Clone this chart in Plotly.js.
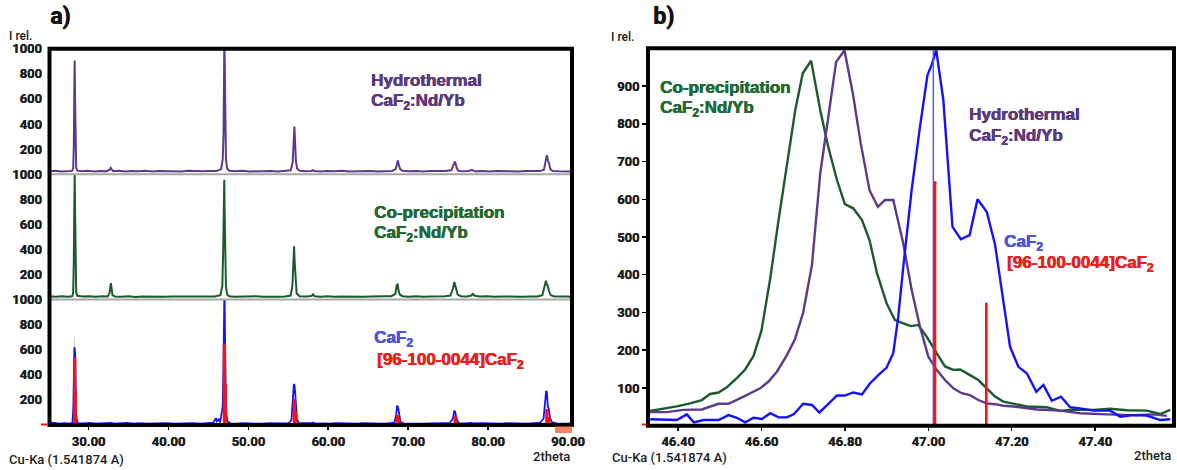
<!DOCTYPE html>
<html>
<head>
<meta charset="utf-8">
<script src="https://cdn.plot.ly/plotly-3.0.1.min.js"></script>
<style>
  html, body { margin: 0; padding: 0; background: #fff; }
  #chart { width: 1177px; height: 470px; }
</style>
</head>
<body>
<div id="chart"></div>
<script>
// ---------- Full patterns (2theta, I rel.) ----------
const hydroPts = [
  [25.12,22],[25.9,27],[26.6,21],[27.3,25],[27.9,24],[28.08,45],[28.16,210],[28.22,620],[28.27,905],[28.32,610],
  [28.38,180],[28.46,50],[28.6,28],[29.2,23],[29.9,26],[30.7,21],[31.5,25],[32.2,22],[32.65,35],[32.78,50],
  [32.9,38],[33.1,24],[33.8,26],[34.6,21],[35.4,25],[36.3,22],[37.1,26],[38.0,21],[38.9,24],[39.8,22],
  [40.7,25],[41.6,21],[42.5,26],[43.4,23],[44.3,22],[45.2,25],[46.0,24],[46.6,40],[46.8,120],[46.9,320],
  [46.96,1020],[47.0,1040],[47.05,900],[47.1,420],[47.2,120],[47.35,45],[47.6,27],[48.3,23],[49.2,26],[50.1,21],
  [51.0,24],[51.9,22],[52.8,25],[53.7,21],[54.6,24],[55.3,30],[55.55,90],[55.68,240],[55.77,380],[55.85,260],
  [55.95,110],[56.1,45],[56.4,27],[57.2,23],[57.9,25],[58.1,32],[58.3,24],[59.0,21],[59.9,25],[60.8,22],
  [61.7,26],[62.6,21],[63.5,24],[64.4,22],[65.3,25],[66.2,21],[67.1,24],[68.0,25],[68.45,40],[68.62,100],
  [68.72,110],[68.85,70],[69.0,40],[69.3,26],[70.1,22],[71.0,25],[71.9,21],[72.8,24],[73.7,22],[74.6,25],
  [75.4,30],[75.7,70],[75.85,100],[75.95,85],[76.1,45],[76.3,27],[76.8,22],[77.6,25],[78.0,34],[78.2,26],
  [78.5,22],[79.3,25],[80.2,21],[81.1,24],[82.0,22],[82.9,25],[83.8,21],[84.7,24],[85.6,22],[86.5,24],
  [87.0,35],[87.25,100],[87.36,150],[87.5,110],[87.62,90],[87.8,40],[88.1,25],[88.8,22],[89.6,24],[90.5,21]
];

const coprPts = [
  [25.12,26],[25.9,22],[26.7,27],[27.4,23],[27.95,26],[28.08,50],[28.16,300],[28.22,820],[28.27,1020],[28.32,720],
  [28.38,240],[28.46,60],[28.6,30],[29.3,24],[30.1,27],[30.9,22],[31.7,26],[32.4,24],[32.62,50],[32.72,125],
  [32.8,130],[32.88,95],[33.0,35],[33.3,25],[34.1,22],[35.0,26],[35.9,21],[36.8,25],[37.7,23],[38.6,27],
  [39.5,22],[40.4,25],[41.3,24],[42.2,29],[43.1,24],[44.0,26],[44.9,22],[45.8,25],[46.5,35],[46.75,110],
  [46.86,400],[46.93,930],[46.99,955],[47.04,700],[47.1,340],[47.2,110],[47.35,40],[47.6,26],[48.3,22],[49.2,25],
  [50.1,23],[51.0,26],[51.9,22],[52.8,25],[53.7,22],[54.6,24],[55.3,32],[55.52,110],[55.65,300],[55.73,425],
  [55.8,300],[55.9,150],[56.05,50],[56.4,27],[57.2,24],[57.9,28],[58.1,42],[58.3,27],[59.0,23],[59.9,26],
  [60.8,22],[61.7,25],[62.6,23],[63.5,26],[64.4,22],[65.3,25],[66.2,23],[67.1,26],[67.9,27],[68.4,45],
  [68.58,115],[68.68,120],[68.8,75],[68.95,40],[69.3,27],[70.1,23],[71.0,26],[71.9,22],[72.8,25],[73.7,23],
  [74.6,26],[75.3,32],[75.62,90],[75.78,140],[75.88,120],[76.0,80],[76.2,40],[76.6,27],[77.4,25],[77.9,32],
  [78.1,45],[78.35,30],[79.0,24],[79.9,26],[80.8,22],[81.7,25],[82.6,23],[83.5,26],[84.4,22],[85.3,25],
  [86.2,24],[86.8,35],[87.12,110],[87.25,150],[87.36,120],[87.48,110],[87.62,70],[87.85,35],[88.3,25],[89.1,22],
  [89.8,25],[90.5,23]
];

const caf2Pts = [
  [25.12,12],[25.6,18],[26.3,10],[27.0,14],[27.6,11],[28.0,20],[28.1,140],[28.18,450],[28.23,620],[28.28,600],
  [28.33,570],[28.38,300],[28.45,90],[28.55,35],[28.7,15],[29.4,12],[30.2,16],[30.9,10],[31.7,13],[32.5,11],
  [32.8,16],[33.3,10],[34.1,12],[34.8,17],[35.6,11],[36.5,14],[37.3,10],[38.2,13],[39.0,11],[39.8,15],
  [40.7,10],[41.5,13],[42.4,11],[43.2,14],[44.1,10],[44.9,13],[45.6,18],[45.95,55],[46.05,30],[46.3,45],
  [46.45,20],[46.6,70],[46.8,150],[46.9,500],[46.96,1100],[47.02,1150],[47.07,800],[47.13,450],[47.2,180],[47.3,60],
  [47.45,25],[47.8,13],[48.5,10],[49.3,14],[50.1,11],[50.9,13],[51.8,10],[52.6,14],[53.4,11],[54.2,13],
  [55.0,12],[55.4,40],[55.6,230],[55.7,325],[55.78,320],[55.86,260],[55.95,140],[56.1,40],[56.35,15],[57.1,12],
  [57.8,14],[58.1,18],[58.5,11],[59.3,13],[60.1,10],[61.0,14],[61.8,11],[62.7,13],[63.5,10],[64.4,14],
  [65.2,11],[66.1,13],[66.9,10],[67.7,14],[68.3,20],[68.5,80],[68.62,150],[68.7,148],[68.8,120],[68.9,70],
  [69.05,25],[69.4,13],[70.2,11],[71.0,14],[71.9,10],[72.7,13],[73.6,11],[74.4,14],[75.2,15],[75.6,50],
  [75.78,110],[75.88,105],[76.0,70],[76.15,35],[76.4,15],[77.2,12],[77.9,16],[78.2,12],[79.0,14],[79.8,11],
  [80.7,13],[81.5,10],[82.4,14],[83.2,11],[84.1,13],[84.9,10],[85.8,14],[86.5,18],[86.95,50],[87.15,180],
  [87.27,270],[87.36,265],[87.48,150],[87.6,130],[87.75,60],[88.0,22],[88.6,13],[89.4,10],[90.5,12]
];

// Reference card [96-100-0044] CaF2 sticks (Ka1 / Ka2)
const stickX = [28.28, 28.35, 47.00, 47.12, 55.76, 55.90, 68.68, 68.88, 75.87, 76.08, 87.36, 87.62];
const stickY = [536, 268, 650, 325, 208, 104, 80, 40, 72, 36, 128, 64];
const ghostX = [28.27];
const ghostY = [700];

// ---------- (220) reflection detail ----------
const coprZoom = [
  [46.333,39],[46.373,46],[46.400,52],[46.429,59],[46.457,68],[46.477,84],[46.497,88],[46.517,102],[46.541,126],[46.561,149],
  [46.581,185],[46.600,252],[46.621,390],[46.641,545],[46.661,695],[46.681,836],[46.699,934],[46.719,967],[46.741,836],[46.760,739],
  [46.781,651],[46.800,587],[46.820,576],[46.841,545],[46.859,492],[46.877,404],[46.900,324],[46.920,280],[46.940,271],[46.958,264],
  [46.976,267],[46.996,236],[47.020,192],[47.040,157],[47.060,148],[47.076,149],[47.100,134],[47.120,121],[47.140,99],[47.160,77],
  [47.180,64],[47.204,58],[47.236,51],[47.284,49],[47.316,39],[47.348,43],[47.396,42],[47.436,45],[47.476,41],[47.524,40],
  [47.556,31],[47.580,42]
];
const hydroZoom = [
  [46.333,36],[46.373,36],[46.413,42],[46.457,43],[46.497,58],[46.521,58],[46.557,77],[46.597,99],[46.617,117],[46.637,143],
  [46.661,187],[46.680,228],[46.700,300],[46.721,425],[46.741,669],[46.758,801],[46.779,964],[46.799,994],[46.819,881],[46.838,748],
  [46.859,624],[46.879,580],[46.896,598],[46.916,598],[46.940,483],[46.960,360],[46.980,262],[47.000,183],[47.020,148],[47.040,121],
  [47.060,99],[47.080,86],[47.100,81],[47.120,68],[47.140,59],[47.160,57],[47.180,53],[47.204,51],[47.260,43],[47.316,40],
  [47.364,33],[47.428,30],[47.492,28],[47.540,30],[47.572,26]
];
const caf2Zoom = [
  [46.333,17],[46.397,15],[46.421,30],[46.438,9],[46.461,15],[46.497,15],[46.521,28],[46.541,21],[46.561,9],[46.581,21],
  [46.601,18],[46.621,33],[46.641,22],[46.661,22],[46.678,31],[46.700,58],[46.721,55],[46.739,35],[46.758,55],[46.781,80],
  [46.800,80],[46.820,88],[46.841,83],[46.860,112],[46.880,134],[46.900,154],[46.916,192],[46.928,289],[46.940,421],[46.960,624],
  [46.980,792],[46.998,929],[47.008,956],[47.019,995],[47.036,863],[47.048,686],[47.058,527],[47.078,494],[47.099,505],[47.118,600],
  [47.140,567],[47.160,480],[47.184,298],[47.196,209],[47.216,156],[47.236,139],[47.259,90],[47.276,108],[47.296,66],[47.318,77],
  [47.340,49],[47.364,46],[47.396,40],[47.436,40],[47.460,24],[47.492,28],[47.524,27],[47.556,15],[47.580,17]
];
const zoomStickX = [47.016, 47.139];
const zoomStickY = [648, 326];
const zoomMarkX = [47.012];
const zoomMarkY = [1000];

const fullTicks = [30, 40, 50, 60, 70, 80, 90];
const zoomTicks = [46.4, 46.6, 46.8, 47.0, 47.2, 47.4];
const stackTicks = [200, 400, 600, 800, 1000];
const zoomYTicks = [100, 200, 300, 400, 500, 600, 700, 800, 900];

// ---------- helpers ----------
const W = 1177, H = 470;
const px = v => v / W;
const py = v => 1 - v / H;
const xs = pts => pts.map(p => p[0]);
const ys = pts => pts.map(p => p[1]);
function sticks(xv, yv) {
  const x = [], y = [];
  xv.forEach((v, i) => { x.push(v, v, null); y.push(0, yv[i], null); });
  return { x, y };
}

const PURPLE = '#5b3a8c', GREEN = '#1b5a2c', BLUE = '#1212ff', RED = '#ff1010';
const s1 = sticks(stickX, stickY);
const sg = sticks(ghostX, ghostY);
const s2 = sticks(zoomStickX, zoomStickY);
const sm = sticks(zoomMarkX, zoomMarkY);

const traces = [
  { x: xs(hydroPts), y: ys(hydroPts), xaxis: 'x', yaxis: 'y3', mode: 'lines', line: { color: PURPLE, width: 2 } },
  { x: xs(coprPts), y: ys(coprPts), xaxis: 'x', yaxis: 'y2', mode: 'lines', line: { color: GREEN, width: 2 } },
  { x: sg.x, y: sg.y, xaxis: 'x', yaxis: 'y', mode: 'lines', line: { color: '#cfcfcf', width: 1 } },
  { x: xs(caf2Pts), y: ys(caf2Pts), xaxis: 'x', yaxis: 'y', mode: 'lines', line: { color: BLUE, width: 1.8 } },
  { x: s1.x, y: s1.y, xaxis: 'x', yaxis: 'y', mode: 'lines', line: { color: RED, width: 3.2 } },

  { x: xs(coprZoom), y: ys(coprZoom), xaxis: 'x2', yaxis: 'y4', mode: 'lines', line: { color: GREEN, width: 2.4 } },
  { x: xs(hydroZoom), y: ys(hydroZoom), xaxis: 'x2', yaxis: 'y4', mode: 'lines', line: { color: PURPLE, width: 2.4 } },
  { x: xs(caf2Zoom), y: ys(caf2Zoom), xaxis: 'x2', yaxis: 'y4', mode: 'lines', line: { color: BLUE, width: 2.4 } },
  { x: sm.x, y: sm.y, xaxis: 'x2', yaxis: 'y4', mode: 'lines', line: { color: '#5a5ae6', width: 1.5 } },
  { x: s2.x, y: s2.y, xaxis: 'x2', yaxis: 'y4', mode: 'lines', line: { color: RED, width: 2.6 } }
];
traces.forEach(t => { t.hoverinfo = 'skip'; t.showlegend = false; });

const tickFont = { family: 'Roboto, sans-serif', size: 13, color: '#1c1c1c', weight: 700,
  shadow: '0.4px 0 0 #1c1c1c' };

// frame geometry (pixels)
const A = { l: 49.5, r: 572, t: 48.7, b: 425 };
const B = { l: 648, r: 1174, t: 48.3, b: 425.7 };
const hA = (A.b - A.t) / 3;
const cut1 = A.b - hA, cut2 = A.b - 2 * hA;

const baseY = {
  range: [0, 1000], tickvals: stackTicks, ticktext: stackTicks.map(String),
  showgrid: false, zeroline: false, showline: false,
  ticks: 'outside', ticklen: 3, tickcolor: 'rgba(0,0,0,0)', ticklabelstandoff: 1,
  tickfont: tickFont, anchor: 'x', fixedrange: true
};

const layout = {
  width: W, height: H,
  margin: { l: 0, r: 0, t: 0, b: 0 },
  paper_bgcolor: '#fff', plot_bgcolor: '#fff',
  showlegend: false,
  xaxis: {
    domain: [px(A.l), px(A.r)], range: [25.12, 90.51], anchor: 'y',
    tickvals: fullTicks, tickformat: '.2f',
    ticks: 'outside', ticklen: 4, tickwidth: 1.5, tickcolor: '#000',
    showgrid: false, zeroline: false, showline: false, tickfont: tickFont
  },
  yaxis: Object.assign({}, baseY, { domain: [py(A.b), py(cut1)] }),
  yaxis2: Object.assign({}, baseY, { domain: [py(cut1), py(cut2)] }),
  yaxis3: Object.assign({}, baseY, { domain: [py(cut2), py(A.t)] }),
  xaxis2: {
    domain: [px(B.l), px(B.r)], range: [46.328, 47.589], anchor: 'y4',
    tickvals: zoomTicks, tickformat: '.2f',
    ticks: 'outside', ticklen: 4, tickwidth: 1.5, tickcolor: '#000',
    showgrid: false, zeroline: false, showline: false, tickfont: tickFont
  },
  yaxis4: {
    domain: [py(B.b), py(B.t)], range: [0, 1000], anchor: 'x2',
    tickvals: zoomYTicks, ticks: 'outside', ticklen: 5, tickwidth: 1.5, tickcolor: '#000',
    showgrid: false, zeroline: false, showline: false, tickfont: tickFont
  },
  shapes: [
    // dividers between stacked patterns
    { type: 'line', xref: 'paper', yref: 'paper', x0: px(A.l), x1: px(A.r), y0: py(cut1), y1: py(cut1), line: { color: '#a8a8a8', width: 2 } },
    { type: 'line', xref: 'paper', yref: 'paper', x0: px(A.l), x1: px(A.r), y0: py(cut2), y1: py(cut2), line: { color: '#a8a8a8', width: 2 } },
    // frames
    { type: 'rect', xref: 'paper', yref: 'paper', x0: px(A.l), x1: px(A.r), y0: py(A.b), y1: py(A.t), line: { color: '#000', width: 4 }, layer: 'above' },
    { type: 'rect', xref: 'paper', yref: 'paper', x0: px(B.l), x1: px(B.r), y0: py(B.b), y1: py(B.t), line: { color: '#000', width: 4 }, layer: 'above' },
    // zero markers
    { type: 'line', xref: 'paper', yref: 'paper', x0: px(41), x1: px(47.5), y0: py(424.5), y1: py(424.5), line: { color: RED, width: 2 } },
    { type: 'line', xref: 'paper', yref: 'paper', x0: px(642), x1: px(646.5), y0: py(424.5), y1: py(424.5), line: { color: RED, width: 2 } },
    // range end marker
    { type: 'rect', xref: 'paper', yref: 'paper', x0: px(555), x1: px(572), y0: py(433), y1: py(426.5), fillcolor: '#f4845f', line: { width: 0 }, layer: 'above' }
  ],
  annotations: []
};

function txt(text, x, y, opts) {
  const o = Object.assign({ size: 13, color: '#1c1c1c', weight: 'normal', anchor: 'left',
    family: 'Roboto, sans-serif', shadow: 'none' }, opts || {});
  layout.annotations.push({
    text, xref: 'paper', yref: 'paper', x: px(x), y: py(y),
    xanchor: o.anchor, yanchor: 'middle', showarrow: false,
    font: { family: o.family, size: o.size, color: o.color, weight: o.weight, shadow: o.shadow }
  });
}
// heavy sample labels: bold face thickened by a same-colour offset copy
function lbl(color) {
  return { family: 'Liberation Sans, Arial, sans-serif', size: 17, weight: 'normal', color,
    shadow: '0.6px 0 0 ' + color + ', 0 0.4px 0 ' + color };
}
const b = s => '<b>' + s + '</b>';
const HYD = '#5b3a7c', COP = '#226a35', CAF = '#4a55d8', CARD = '#e8211d';

// panel letters and axis captions
txt(b('a)'), 48, 16, { size: 23, color: '#111', shadow: '0.8px 0 0 #111' });
txt(b('b)'), 651, 16, { size: 23, color: '#111', shadow: '0.8px 0 0 #111' });
txt('I rel.', 7, 36, { size: 12, weight: 500 });
txt('I rel.', 609, 37, { size: 12, weight: 500 });
txt('Cu-Ka (1.541874 A)', 7, 459, { size: 13, weight: 500 });
txt('Cu-Ka (1.541874 A)', 610, 457, { size: 13, weight: 500 });
txt('2theta', 572, 456, { size: 13, weight: 500, anchor: 'right' });
txt('2theta', 1173, 455, { size: 13, weight: 500, anchor: 'right' });

// sample labels, full patterns
txt(b('Hydrothermal'), 369, 80, lbl(HYD));
txt(b('CaF<sub>2</sub>:Nd/Yb'), 369, 102, lbl(HYD));
txt(b('Co-precipitation'), 372, 212, lbl(COP));
txt(b('CaF<sub>2</sub>:Nd/Yb'), 372, 234, lbl(COP));
txt(b('CaF<sub>2</sub>'), 372, 339, lbl(CAF));
txt(b('[96-100-0044]CaF<sub>2</sub>'), 375, 361, lbl(CARD));

// sample labels, detail
txt(b('Co-precipitation'), 658, 87, lbl(COP));
txt(b('CaF<sub>2</sub>:Nd/Yb'), 658, 109, lbl(COP));
txt(b('Hydrothermal'), 967, 115, lbl(HYD));
txt(b('CaF<sub>2</sub>:Nd/Yb'), 967, 137, lbl(HYD));
txt(b('CaF<sub>2</sub>'), 1002, 243, lbl(CAF));
txt(b('[96-100-0044]CaF<sub>2</sub>'), 1005, 264, lbl(CARD));

Plotly.newPlot('chart', traces, layout, { staticPlot: true, displayModeBar: false });
</script>
</body>
</html>
